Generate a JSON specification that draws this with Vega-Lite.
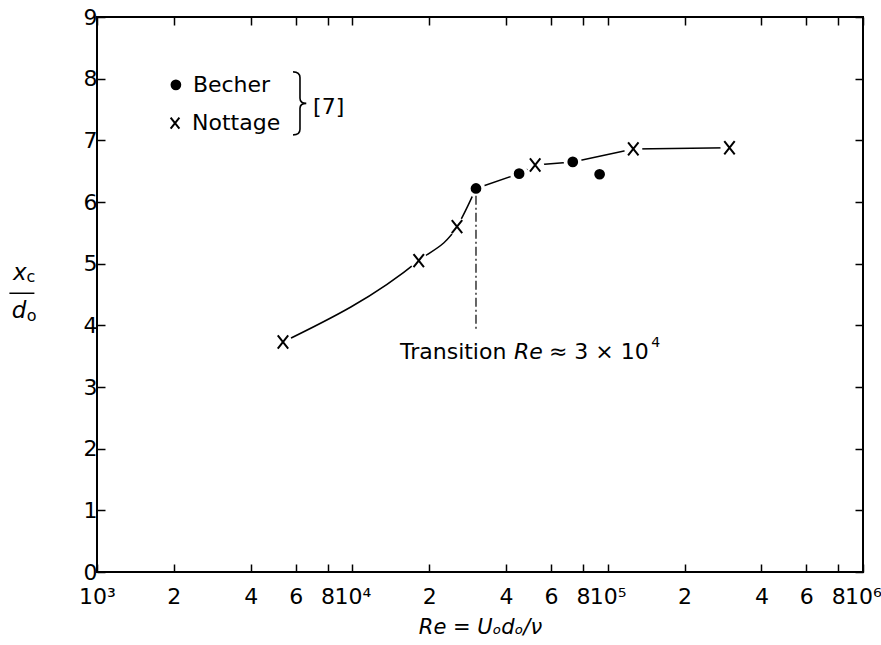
{
  "$schema": "https://vega.github.io/schema/vega-lite/v6.json",
  "width": 766,
  "height": 555,
  "autosize": {"type": "none"},
  "padding": {"left": 97, "top": 17, "right": 18, "bottom": 73},
  "background": "white",
  "config": {
    "view": {"stroke": "black", "strokeWidth": 2},
    "font": "DejaVu Sans",
    "axis": {
      "grid": false,
      "domain": false,
      "tickColor": "black",
      "tickWidth": 1.5,
      "tickSize": -8,
      "labelColor": "black",
      "labelFont": "DejaVu Sans",
      "labelFontSize": 22,
      "titleColor": "black",
      "titleFont": "DejaVu Sans",
      "labelFlush": false,
      "labelOverlap": false
    }
  },
  "datasets": {
    "measurements": [
      {"series": "Nottage", "Re": 5350, "xc_do": 3.73, "on_curve": true},
      {"series": "Nottage", "Re": 18200, "xc_do": 5.05, "on_curve": true},
      {"series": "Nottage", "Re": 25700, "xc_do": 5.6, "on_curve": true},
      {"series": "Becher", "Re": 30500, "xc_do": 6.22, "on_curve": true},
      {"series": "Becher", "Re": 45000, "xc_do": 6.46, "on_curve": true},
      {"series": "Nottage", "Re": 52000, "xc_do": 6.6, "on_curve": true},
      {"series": "Becher", "Re": 73000, "xc_do": 6.65, "on_curve": true},
      {"series": "Becher", "Re": 93000, "xc_do": 6.45, "on_curve": false},
      {"series": "Nottage", "Re": 126000, "xc_do": 6.86, "on_curve": true},
      {"series": "Nottage", "Re": 300000, "xc_do": 6.88, "on_curve": true}
    ],
    "legend": [
      {"series": "Becher", "x": 2037, "y": 7.9, "label": "Becher"},
      {"series": "Nottage", "x": 2021, "y": 7.28, "label": "Nottage"}
    ],
    "transition": [
      {"x": 30500, "y": 6.1, "y2": 3.92}
    ],
    "notes_upright": [
      {"text": "Transition", "x": 15370, "y": 3.57},
      {"text": "≈ 3 × 10", "x": 58880, "y": 3.57},
      {"text": "[7]", "x": 7017, "y": 7.54}
    ],
    "notes_italic": [
      {"text": "Re", "x": 43000, "y": 3.57}
    ],
    "notes_super": [
      {"text": "4", "x": 148000, "y": 3.72}
    ],
    "ytitle_italic": [
      {"text": "x", "x": 499, "y": 4.85},
      {"text": "d", "x": 495, "y": 4.23}
    ],
    "ytitle_sub": [
      {"text": "c", "x": 551, "y": 4.78},
      {"text": "o", "x": 555, "y": 4.15}
    ],
    "ytitle_bar": [{"x": 508, "y": 4.52}],
    "brace": [{"x": 6237, "y": 7.6}]
  },
  "layer": [
    {
      "data": {"name": "measurements"},
      "transform": [{"filter": "datum.on_curve && datum.Re <= 30500"}],
      "mark": {"type": "line", "interpolate": "monotone", "color": "black", "strokeWidth": 1.5},
      "encoding": {
        "x": {
          "field": "Re", "type": "quantitative",
          "scale": {"type": "log", "domain": [1000, 1000000], "nice": false},
          "axis": {
            "orient": "bottom",
            "values": [1000, 2000, 4000, 6000, 8000, 10000, 20000, 40000, 60000, 80000, 100000, 200000, 400000, 600000, 800000, 1000000],
            "labelExpr": "datum.value == 1000 ? '10³' : datum.value == 10000 ? '10⁴' : datum.value == 100000 ? '10⁵' : datum.value == 1000000 ? '10⁶' : substring(format(datum.value, 'd'), 0, 1)",
            "labelPadding": 22,
            "title": "Re = Uₒdₒ/ν",
            "titleFontStyle": "italic",
            "titleFontWeight": "normal",
            "titleFontSize": 21,
            "titlePadding": 9
          }
        },
        "y": {
          "field": "xc_do", "type": "quantitative",
          "scale": {"domain": [0, 9], "nice": false, "zero": false},
          "axis": {
            "orient": "left",
            "values": [0, 1, 2, 3, 4, 5, 6, 7, 8, 9],
            "labelPadding": 8,
            "title": null
          }
        }
      }
    },
    {
      "data": {"name": "measurements"},
      "mark": {"type": "point", "opacity": 0},
      "encoding": {
        "x": {
          "field": "Re", "type": "quantitative",
          "scale": {"type": "log", "domain": [1000, 1000000], "nice": false},
          "axis": {
            "orient": "top",
            "values": [1000, 2000, 4000, 6000, 8000, 10000, 20000, 40000, 60000, 80000, 100000, 200000, 400000, 600000, 800000, 1000000],
            "labels": false,
            "title": null
          }
        },
        "y": {
          "field": "xc_do", "type": "quantitative",
          "scale": {"domain": [0, 9], "nice": false, "zero": false},
          "axis": {
            "orient": "right",
            "values": [0, 1, 2, 3, 4, 5, 6, 7, 8, 9],
            "labels": false,
            "title": null
          }
        }
      }
    },
    {
      "data": {"name": "measurements"},
      "transform": [{"filter": "datum.on_curve && datum.Re >= 30500"}],
      "mark": {"type": "line", "interpolate": "linear", "color": "black", "strokeWidth": 1.5},
      "encoding": {
        "x": {"field": "Re", "type": "quantitative", "scale": {"type": "log", "domain": [1000, 1000000], "nice": false}, "axis": null},
        "y": {"field": "xc_do", "type": "quantitative", "scale": {"domain": [0, 9], "nice": false, "zero": false}, "axis": null}
      }
    },
    {
      "data": {"name": "measurements"},
      "mark": {"type": "point", "shape": "circle", "filled": true, "color": "white", "opacity": 1, "size": 330},
      "encoding": {
        "x": {"field": "Re", "type": "quantitative", "scale": {"type": "log", "domain": [1000, 1000000], "nice": false}, "axis": null},
        "y": {"field": "xc_do", "type": "quantitative", "scale": {"domain": [0, 9], "nice": false, "zero": false}, "axis": null}
      }
    },
    {
      "data": {"name": "transition"},
      "mark": {"type": "rule", "color": "black", "strokeWidth": 1.2, "strokeDash": [9, 3, 2, 3]},
      "encoding": {
        "x": {"field": "x", "type": "quantitative", "scale": {"type": "log", "domain": [1000, 1000000], "nice": false}, "axis": null},
        "y": {"field": "y", "type": "quantitative", "scale": {"domain": [0, 9], "nice": false, "zero": false}, "axis": null},
        "y2": {"field": "y2"}
      }
    },
    {
      "data": {"name": "measurements"},
      "transform": [{"filter": "datum.series == 'Becher'"}],
      "mark": {"type": "point", "shape": "circle", "filled": true, "color": "black", "opacity": 1, "size": 115},
      "encoding": {
        "x": {"field": "Re", "type": "quantitative", "scale": {"type": "log", "domain": [1000, 1000000], "nice": false}, "axis": null},
        "y": {"field": "xc_do", "type": "quantitative", "scale": {"domain": [0, 9], "nice": false, "zero": false}, "axis": null}
      }
    },
    {
      "data": {"name": "measurements"},
      "transform": [{"filter": "datum.series == 'Nottage'"}],
      "mark": {"type": "point", "shape": "M-0.8,-1L0.8,1M-0.8,1L0.8,-1", "filled": false, "stroke": "black", "strokeWidth": 2, "opacity": 1, "size": 170},
      "encoding": {
        "x": {"field": "Re", "type": "quantitative", "scale": {"type": "log", "domain": [1000, 1000000], "nice": false}, "axis": null},
        "y": {"field": "xc_do", "type": "quantitative", "scale": {"domain": [0, 9], "nice": false, "zero": false}, "axis": null}
      }
    },
    {
      "data": {"name": "legend"},
      "transform": [{"filter": "datum.series == 'Becher'"}],
      "mark": {"type": "point", "shape": "circle", "filled": true, "color": "black", "opacity": 1, "size": 115},
      "encoding": {
        "x": {"field": "x", "type": "quantitative", "scale": {"type": "log", "domain": [1000, 1000000], "nice": false}, "axis": null},
        "y": {"field": "y", "type": "quantitative", "scale": {"domain": [0, 9], "nice": false, "zero": false}, "axis": null}
      }
    },
    {
      "data": {"name": "legend"},
      "transform": [{"filter": "datum.series == 'Nottage'"}],
      "mark": {"type": "point", "shape": "M-0.8,-1L0.8,1M-0.8,1L0.8,-1", "filled": false, "stroke": "black", "strokeWidth": 2, "opacity": 1, "size": 120},
      "encoding": {
        "x": {"field": "x", "type": "quantitative", "scale": {"type": "log", "domain": [1000, 1000000], "nice": false}, "axis": null},
        "y": {"field": "y", "type": "quantitative", "scale": {"domain": [0, 9], "nice": false, "zero": false}, "axis": null}
      }
    },
    {
      "data": {"name": "legend"},
      "mark": {"type": "text", "align": "left", "baseline": "middle", "dx": 17, "font": "DejaVu Sans", "fontSize": 22, "color": "black"},
      "encoding": {
        "x": {"field": "x", "type": "quantitative", "scale": {"type": "log", "domain": [1000, 1000000], "nice": false}, "axis": null},
        "y": {"field": "y", "type": "quantitative", "scale": {"domain": [0, 9], "nice": false, "zero": false}, "axis": null},
        "text": {"field": "label"}
      }
    },
    {
      "data": {"name": "brace"},
      "mark": {"type": "point", "shape": "M-0.22,-1Q0,-1 0,-0.82L0,-0.16Q0,0 0.2,0Q0,0 0,0.16L0,0.82Q0,1 -0.22,1", "filled": false, "stroke": "black", "strokeWidth": 1.6, "opacity": 1, "size": 3969},
      "encoding": {
        "x": {"field": "x", "type": "quantitative", "scale": {"type": "log", "domain": [1000, 1000000], "nice": false}, "axis": null},
        "y": {"field": "y", "type": "quantitative", "scale": {"domain": [0, 9], "nice": false, "zero": false}, "axis": null}
      }
    },
    {
      "data": {"name": "notes_upright"},
      "mark": {"type": "text", "align": "left", "baseline": "middle", "font": "DejaVu Sans", "fontSize": 22, "color": "black"},
      "encoding": {
        "x": {"field": "x", "type": "quantitative", "scale": {"type": "log", "domain": [1000, 1000000], "nice": false}, "axis": null},
        "y": {"field": "y", "type": "quantitative", "scale": {"domain": [0, 9], "nice": false, "zero": false}, "axis": null},
        "text": {"field": "text"}
      }
    },
    {
      "data": {"name": "notes_italic"},
      "mark": {"type": "text", "align": "left", "baseline": "middle", "font": "DejaVu Sans", "fontStyle": "italic", "fontSize": 22, "color": "black"},
      "encoding": {
        "x": {"field": "x", "type": "quantitative", "scale": {"type": "log", "domain": [1000, 1000000], "nice": false}, "axis": null},
        "y": {"field": "y", "type": "quantitative", "scale": {"domain": [0, 9], "nice": false, "zero": false}, "axis": null},
        "text": {"field": "text"}
      }
    },
    {
      "data": {"name": "notes_super"},
      "mark": {"type": "text", "align": "left", "baseline": "middle", "font": "DejaVu Sans", "fontSize": 14, "color": "black"},
      "encoding": {
        "x": {"field": "x", "type": "quantitative", "scale": {"type": "log", "domain": [1000, 1000000], "nice": false}, "axis": null},
        "y": {"field": "y", "type": "quantitative", "scale": {"domain": [0, 9], "nice": false, "zero": false}, "axis": null},
        "text": {"field": "text"}
      }
    },
    {
      "data": {"name": "ytitle_italic"},
      "mark": {"type": "text", "align": "center", "baseline": "middle", "font": "DejaVu Sans", "fontStyle": "italic", "fontSize": 23, "color": "black"},
      "encoding": {
        "x": {"field": "x", "type": "quantitative", "scale": {"type": "log", "domain": [1000, 1000000], "nice": false}, "axis": null},
        "y": {"field": "y", "type": "quantitative", "scale": {"domain": [0, 9], "nice": false, "zero": false}, "axis": null},
        "text": {"field": "text"}
      }
    },
    {
      "data": {"name": "ytitle_sub"},
      "mark": {"type": "text", "align": "center", "baseline": "middle", "font": "DejaVu Sans", "fontSize": 16, "color": "black"},
      "encoding": {
        "x": {"field": "x", "type": "quantitative", "scale": {"type": "log", "domain": [1000, 1000000], "nice": false}, "axis": null},
        "y": {"field": "y", "type": "quantitative", "scale": {"domain": [0, 9], "nice": false, "zero": false}, "axis": null},
        "text": {"field": "text"}
      }
    },
    {
      "data": {"name": "ytitle_bar"},
      "mark": {"type": "point", "shape": "M-1,0L1,0", "filled": false, "stroke": "black", "strokeWidth": 1.5, "opacity": 1, "size": 625},
      "encoding": {
        "x": {"field": "x", "type": "quantitative", "scale": {"type": "log", "domain": [1000, 1000000], "nice": false}, "axis": null},
        "y": {"field": "y", "type": "quantitative", "scale": {"domain": [0, 9], "nice": false, "zero": false}, "axis": null}
      }
    }
  ],
  "resolve": {"axis": {"x": "independent", "y": "independent"}}
}
